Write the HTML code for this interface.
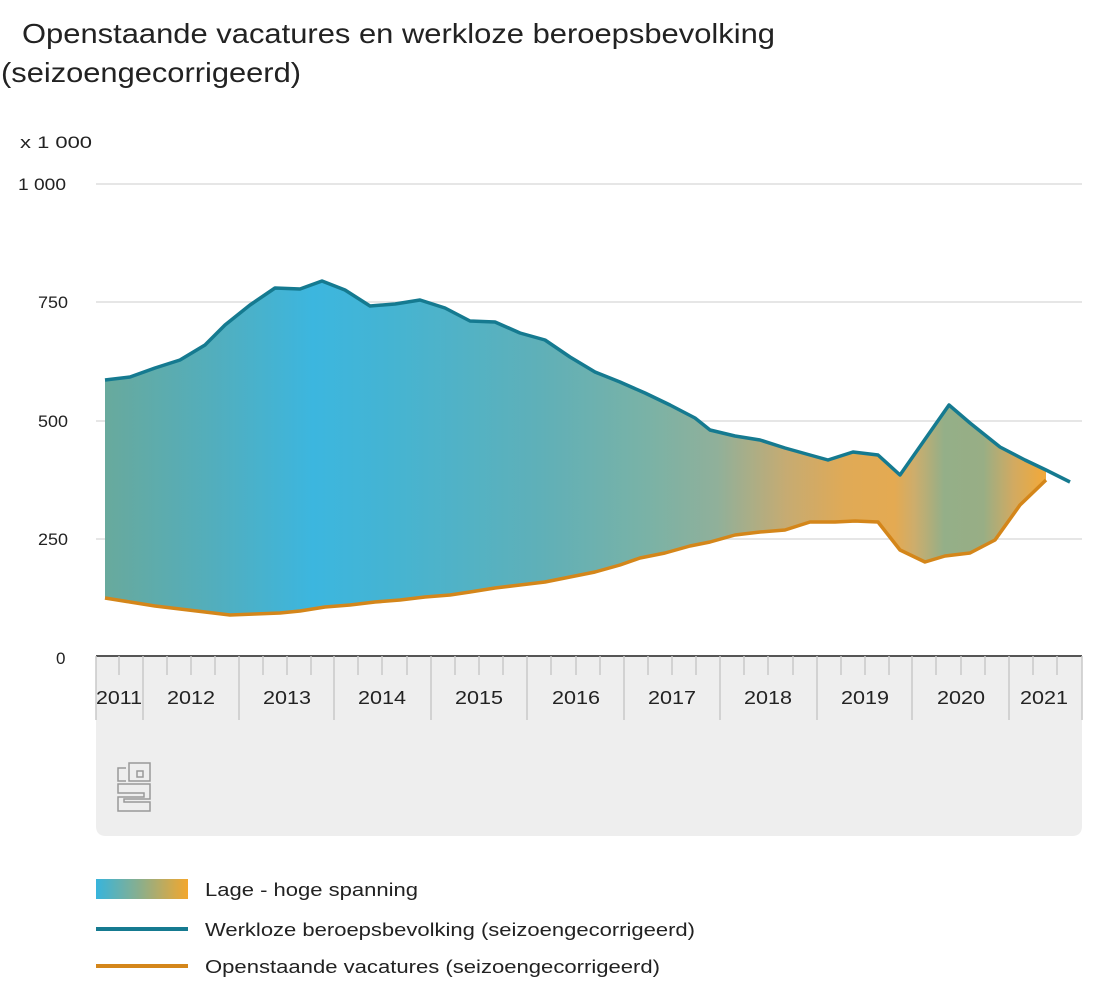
<!DOCTYPE html>
<html><head><meta charset="utf-8"><style>
html,body{margin:0;padding:0;background:#fff;}
svg{display:block;font-family:"Liberation Sans",sans-serif;}
</style></head><body>
<svg width="1100" height="1008" viewBox="0 0 1100 1008" xmlns="http://www.w3.org/2000/svg">
<defs>
<linearGradient id="g" x1="96" x2="1082" y1="0" y2="0" gradientUnits="userSpaceOnUse">
<stop offset="0" stop-color="#6aa99a"/>
<stop offset="0.12" stop-color="#52aebd"/>
<stop offset="0.22" stop-color="#3cb6df"/>
<stop offset="0.30" stop-color="#45b4d2"/>
<stop offset="0.45" stop-color="#5fb0b8"/>
<stop offset="0.56" stop-color="#7ab2a6"/>
<stop offset="0.63" stop-color="#90b09a"/>
<stop offset="0.70" stop-color="#c6ab72"/>
<stop offset="0.76" stop-color="#e0aa56"/>
<stop offset="0.81" stop-color="#e4aa52"/>
<stop offset="0.83" stop-color="#cdad6c"/>
<stop offset="0.86" stop-color="#94af88"/>
<stop offset="0.90" stop-color="#98ae85"/>
<stop offset="0.93" stop-color="#d1aa62"/>
<stop offset="0.96" stop-color="#f0a93c"/>
<stop offset="1" stop-color="#f0a93c"/>
</linearGradient>
<linearGradient id="lg" x1="0" x2="1" y1="0" y2="0">
<stop offset="0" stop-color="#37b4dc"/>
<stop offset="0.5" stop-color="#8fae88"/>
<stop offset="1" stop-color="#f3a72e"/>
</linearGradient>
</defs>
<text x="22" y="43" font-size="28" fill="#222" textLength="753" lengthAdjust="spacingAndGlyphs">Openstaande vacatures en werkloze beroepsbevolking</text>
<text x="1" y="82" font-size="28" fill="#222" textLength="300" lengthAdjust="spacingAndGlyphs">(seizoengecorrigeerd)</text>
<text x="20" y="148" font-size="17" fill="#222" textLength="72" lengthAdjust="spacingAndGlyphs">x 1 000</text>
<g font-size="17" fill="#222">
<text x="18" y="190" textLength="48" lengthAdjust="spacingAndGlyphs">1 000</text>
<text x="38" y="308" textLength="30" lengthAdjust="spacingAndGlyphs">750</text>
<text x="38" y="427" textLength="30" lengthAdjust="spacingAndGlyphs">500</text>
<text x="38" y="545" textLength="30" lengthAdjust="spacingAndGlyphs">250</text>
<text x="56" y="664">0</text>
</g>
<g stroke="#ddd" stroke-width="1.5">
<line x1="96" x2="1082" y1="184" y2="184"/>
<line x1="96" x2="1082" y1="302" y2="302"/>
<line x1="96" x2="1082" y1="421" y2="421"/>
<line x1="96" x2="1082" y1="539" y2="539"/>
</g>
<path d="M96 656 H1082 V826 Q1082 836 1072 836 H106 Q96 836 96 826 Z" fill="#eeeeee"/>
<polygon fill="url(#g)" points="105,380 130,377 155,368 180,360 205,345 225,325 250,305 275,288 300,289 322,281 345,290 370,306 395,304 420,300 445,308 470,321 495,322 520,333 545,340 570,357 595,372 620,382 645,393 670,405 695,418 710,430 735,436 760,440 785,448 810,455 828,460 853,452 878,455 900,475 949,405 970,423 1000,447 1025,460 1046,471 1046,480 1020,505 995,540 970,553 945,556 925,562 900,550 878,522 855,521 835,522 810,522 785,530 760,532 735,535 710,542 690,546 665,553 640,558 620,565 595,572 570,577 545,582 520,585 495,588 470,592 450,595 425,597 400,600 375,602 350,605 325,607 300,611 280,613 255,614 230,615 205,612 180,609 155,606 130,602 105,598"/>
<polyline fill="none" stroke="#157a90" stroke-width="3.5" stroke-linejoin="round" points="105,380 130,377 155,368 180,360 205,345 225,325 250,305 275,288 300,289 322,281 345,290 370,306 395,304 420,300 445,308 470,321 495,322 520,333 545,340 570,357 595,372 620,382 645,393 670,405 695,418 710,430 735,436 760,440 785,448 810,455 828,460 853,452 878,455 900,475 949,405 970,423 1000,447 1025,460 1046,470 1070,482"/>
<polyline fill="none" stroke="#d4861a" stroke-width="3.5" stroke-linejoin="round" points="105,598 130,602 155,606 180,609 205,612 230,615 255,614 280,613 300,611 325,607 350,605 375,602 400,600 425,597 450,595 470,592 495,588 520,585 545,582 570,577 595,572 620,565 640,558 665,553 690,546 710,542 735,535 760,532 785,530 810,522 835,522 855,521 878,522 900,550 925,562 945,556 970,553 995,540 1020,505 1046,480"/>
<line x1="96" x2="1082" y1="656" y2="656" stroke="#555" stroke-width="2"/>
<g stroke="#c8c8c8" stroke-width="1.5">
<line x1="143" x2="143" y1="656" y2="720"/><line x1="239" x2="239" y1="656" y2="720"/><line x1="334" x2="334" y1="656" y2="720"/><line x1="431" x2="431" y1="656" y2="720"/><line x1="527" x2="527" y1="656" y2="720"/><line x1="624" x2="624" y1="656" y2="720"/><line x1="720" x2="720" y1="656" y2="720"/><line x1="817" x2="817" y1="656" y2="720"/><line x1="912" x2="912" y1="656" y2="720"/><line x1="1009" x2="1009" y1="656" y2="720"/><line x1="1082" x2="1082" y1="656" y2="720"/><line x1="96" x2="96" y1="656" y2="720"/>
</g>
<g stroke="#c8c8c8" stroke-width="1.5">
<line x1="119" x2="119" y1="656" y2="675"/>
<line x1="167" x2="167" y1="656" y2="675"/><line x1="191" x2="191" y1="656" y2="675"/><line x1="215" x2="215" y1="656" y2="675"/>
<line x1="263" x2="263" y1="656" y2="675"/><line x1="287" x2="287" y1="656" y2="675"/><line x1="311" x2="311" y1="656" y2="675"/>
<line x1="358" x2="358" y1="656" y2="675"/><line x1="382" x2="382" y1="656" y2="675"/><line x1="407" x2="407" y1="656" y2="675"/>
<line x1="455" x2="455" y1="656" y2="675"/><line x1="479" x2="479" y1="656" y2="675"/><line x1="503" x2="503" y1="656" y2="675"/>
<line x1="551" x2="551" y1="656" y2="675"/><line x1="576" x2="576" y1="656" y2="675"/><line x1="600" x2="600" y1="656" y2="675"/>
<line x1="648" x2="648" y1="656" y2="675"/><line x1="672" x2="672" y1="656" y2="675"/><line x1="696" x2="696" y1="656" y2="675"/>
<line x1="744" x2="744" y1="656" y2="675"/><line x1="768" x2="768" y1="656" y2="675"/><line x1="793" x2="793" y1="656" y2="675"/>
<line x1="841" x2="841" y1="656" y2="675"/><line x1="865" x2="865" y1="656" y2="675"/><line x1="889" x2="889" y1="656" y2="675"/>
<line x1="936" x2="936" y1="656" y2="675"/><line x1="961" x2="961" y1="656" y2="675"/><line x1="985" x2="985" y1="656" y2="675"/>
<line x1="1033" x2="1033" y1="656" y2="675"/><line x1="1057" x2="1057" y1="656" y2="675"/>
</g>
<g font-size="18" fill="#222">
<text x="96" y="704" textLength="46" lengthAdjust="spacingAndGlyphs">2011</text>
<text x="167" y="704" textLength="48" lengthAdjust="spacingAndGlyphs">2012</text>
<text x="263" y="704" textLength="48" lengthAdjust="spacingAndGlyphs">2013</text>
<text x="358" y="704" textLength="48" lengthAdjust="spacingAndGlyphs">2014</text>
<text x="455" y="704" textLength="48" lengthAdjust="spacingAndGlyphs">2015</text>
<text x="552" y="704" textLength="48" lengthAdjust="spacingAndGlyphs">2016</text>
<text x="648" y="704" textLength="48" lengthAdjust="spacingAndGlyphs">2017</text>
<text x="744" y="704" textLength="48" lengthAdjust="spacingAndGlyphs">2018</text>
<text x="841" y="704" textLength="48" lengthAdjust="spacingAndGlyphs">2019</text>
<text x="937" y="704" textLength="48" lengthAdjust="spacingAndGlyphs">2020</text>
<text x="1020" y="704" textLength="48" lengthAdjust="spacingAndGlyphs">2021</text>
</g>
<g fill="none" stroke="#999" stroke-width="1.5">
<path d="M126 768 H118 V781 H126"/>
<rect x="129" y="763" width="21" height="18"/><rect x="137" y="771" width="6" height="6"/>
<path d="M150 784 H118 V793 H144 V797 H118 V811 H150 V802 H124 V799 H150 Z"/>
</g>
<rect x="96" y="879" width="92" height="20" fill="url(#lg)"/>
<line x1="96" x2="188" y1="929" y2="929" stroke="#157a90" stroke-width="4"/>
<line x1="96" x2="188" y1="966" y2="966" stroke="#d4861a" stroke-width="4"/>
<g font-size="18" fill="#222">
<text x="205" y="896" textLength="213" lengthAdjust="spacingAndGlyphs">Lage - hoge spanning</text>
<text x="205" y="936" textLength="490" lengthAdjust="spacingAndGlyphs">Werkloze beroepsbevolking (seizoengecorrigeerd)</text>
<text x="205" y="973" textLength="455" lengthAdjust="spacingAndGlyphs">Openstaande vacatures (seizoengecorrigeerd)</text>
</g>
</svg>
</body></html>
